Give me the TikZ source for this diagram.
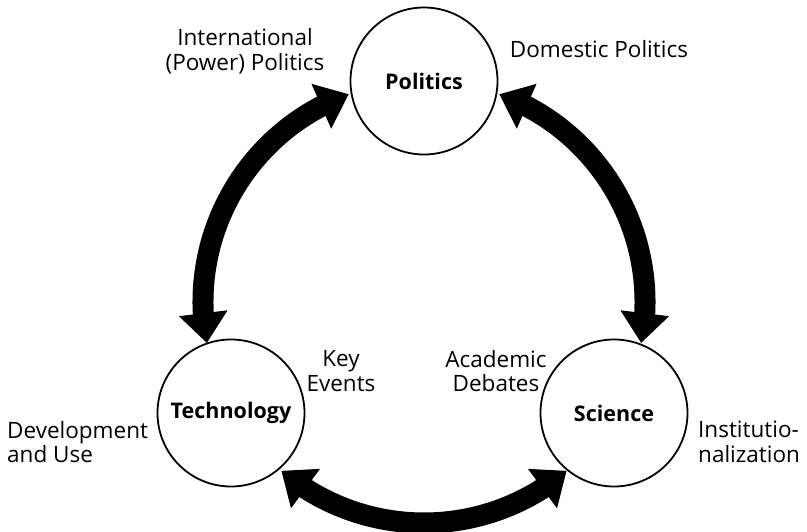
\documentclass[tikz,border=0pt]{standalone}
\usepackage{fontspec}
\setmainfont{Open Sans}
\usetikzlibrary{arrows.meta,bending}
\begin{document}
\begin{tikzpicture}[x=1pt,y=-1pt,
  bubble/.style={circle,draw,line width=1.8pt,minimum size=147pt,inner sep=0pt,font=\fontsize{21.5}{25}\selectfont\bfseries},
  lab/.style={align=center,inner sep=0pt,font=\fontsize{22.5}{24.5}\selectfont},
  link/.style={line width=21pt,{Triangle[width=47pt,length=30pt]}-{Triangle[width=47pt,length=30pt]}}]
\useasboundingbox (0,0) rectangle (807,532);
\node[bubble] (P) at (424,81) {Politics};
\node[bubble] (T) at (231,413) {Technology};
\node[bubble] (S) at (614,413) {Science};
\coordinate (O) at (424,302);
\draw[link] ([shift={(250.1:221)}]O) arc[start angle=250.1,end angle=169.3,radius=221];
\draw[link] ([shift={(-70.1:221)}]O) arc[start angle=-70.1,end angle=10.7,radius=221];
\draw[link] ([shift={(130.2:221)}]O) arc[start angle=130.2,end angle=49.8,radius=221];
\node[lab] (intl) at (245,51) {International\\(Power) Politics};
\node[lab] (dom) at (599,49) {Domestic Politics};
\node[lab] (key) at (341,371) {Key\\Events};
\node[lab] (acad) at (496,371) {Academic\\Debates};
\node[lab,align=left,anchor=west] (dev) at (7,442) {Development\\and Use};
\node[lab,align=left,anchor=west] (inst) at (698,442) {Institutio-\\nalization};
\end{tikzpicture}
\end{document}
